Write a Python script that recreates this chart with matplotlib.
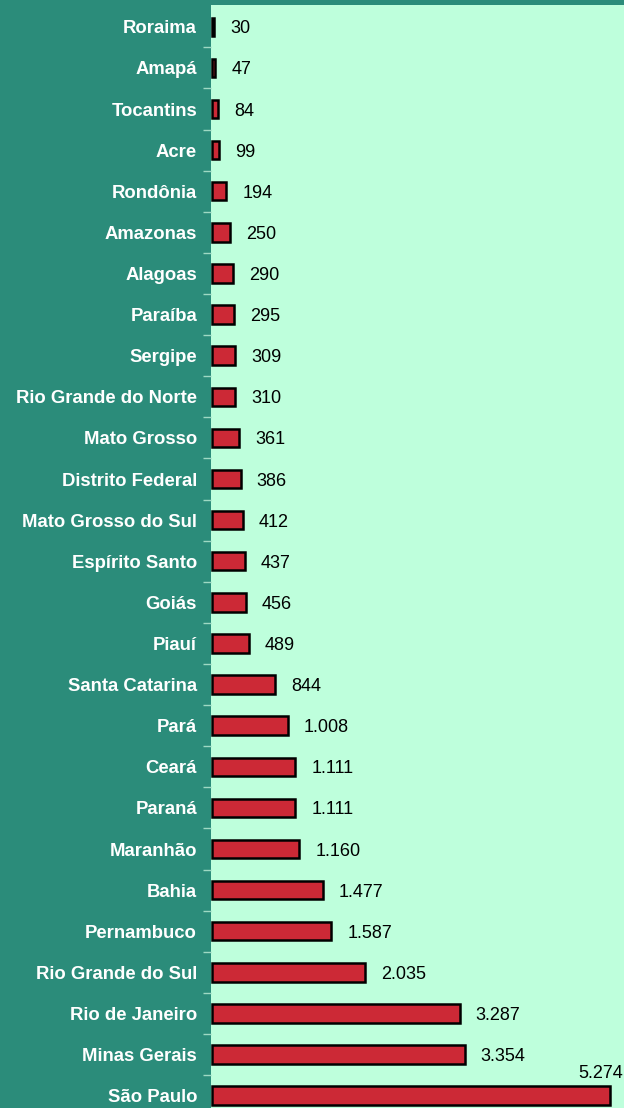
import matplotlib
matplotlib.use("Agg")
import matplotlib.pyplot as plt
from matplotlib.ticker import FixedLocator

states = ["Roraima", "Amapá", "Tocantins", "Acre", "Rondônia", "Amazonas", "Alagoas",
          "Paraíba", "Sergipe", "Rio Grande do Norte", "Mato Grosso", "Distrito Federal",
          "Mato Grosso do Sul", "Espírito Santo", "Goiás", "Piauí", "Santa Catarina",
          "Pará", "Ceará", "Paraná", "Maranhão", "Bahia", "Pernambuco",
          "Rio Grande do Sul", "Rio de Janeiro", "Minas Gerais", "São Paulo"]
values = [30, 47, 84, 99, 194, 250, 290, 295, 309, 310, 361, 386, 412, 437, 456, 489,
          844, 1008, 1111, 1111, 1160, 1477, 1587, 2035, 3287, 3354, 5274]

BG = "#2B8C7A"
PANEL = "#BEFFDC"
BAR = "#CC2936"

plt.rcParams["font.family"] = ["Liberation Sans", "DejaVu Sans"]

fig = plt.figure(figsize=(6.24, 11.08), dpi=100, facecolor=BG)
W, H = 624, 1108
ax = fig.add_axes([211 / W, 0, (W - 211) / W, (H - 5) / H])
ax.set_facecolor(PANEL)

pos = list(range(len(states)))
ax.barh(pos, values, height=0.45, color=BAR, edgecolor="black", linewidth=1.8, zorder=3)

ax.set_xlim(-8, 5465)
ax.set_ylim(26.30, -0.53)

def fmt(v):
    return f"{v:,}".replace(",", ".")

for i, v in enumerate(values):
    if i == len(values) - 1:
        ax.annotate(fmt(v), xy=(v, i), xytext=(13, 24), textcoords="offset pixels",
                    ha="right", va="center_baseline", fontsize=13, color="black",
                    annotation_clip=False)
    else:
        ax.annotate(fmt(v), xy=(v, i), xytext=(16, 0), textcoords="offset pixels",
                    ha="left", va="center_baseline", fontsize=13, color="black")

ax.set_yticks(pos)
ax.set_yticklabels(states, fontsize=13.3, fontweight="bold", color="white")
ax.tick_params(axis="y", which="major", length=0, pad=10)
ax.yaxis.set_minor_locator(FixedLocator([k + 0.5 for k in range(len(states) - 1)]))
ax.tick_params(axis="y", which="minor", length=6, width=1, color="#9FD9C4")
ax.set_xticks([])
for s in ax.spines.values():
    s.set_visible(False)

fig.savefig("out.png", dpi=100, facecolor=BG)
